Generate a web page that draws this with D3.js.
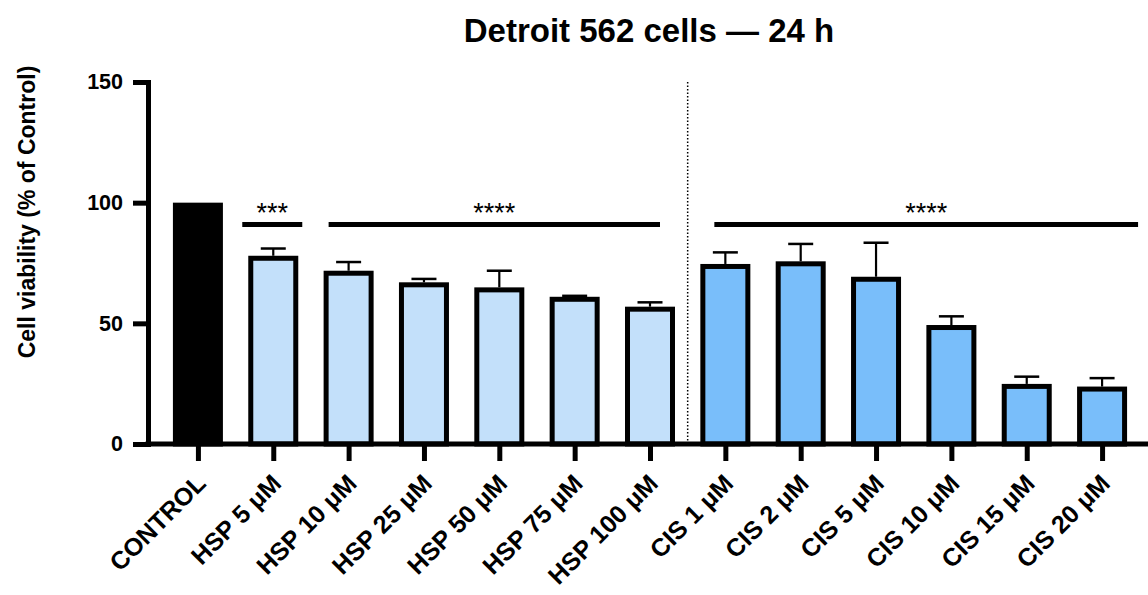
<!DOCTYPE html>
<html>
<head>
<meta charset="utf-8">
<script src="https://cdn.jsdelivr.net/npm/d3@7"></script>
<style>
  html, body { margin: 0; padding: 0; background: #fff; }
  svg { display: block; }
  text { font-family: "Liberation Sans", Arial, Helvetica, sans-serif; }
</style>
</head>
<body>
<svg id="chart" width="1148" height="595"></svg>
<script>
// ---- data ----
const categories = ["CONTROL", "HSP 5 μM", "HSP 10 μM", "HSP 25 μM", "HSP 50 μM", "HSP 75 μM", "HSP 100 μM",
                    "CIS 1 μM", "CIS 2 μM", "CIS 5 μM", "CIS 10 μM", "CIS 15 μM", "CIS 20 μM"];
const groups = ["control", "hsp", "hsp", "hsp", "hsp", "hsp", "hsp",
                "cis", "cis", "cis", "cis", "cis", "cis"];
const means = [100, 78.0, 71.8, 67.0, 64.9, 61.0, 56.9, 74.6, 75.7, 69.3, 49.3, 24.9, 23.8];
const sds   = [0, 3.0, 3.6, 1.4, 6.9, 0.4, 1.8, 4.8, 7.2, 14.1, 3.6, 3.0, 3.5];
const yTicks = [0, 50, 100, 150];
const sigFrom = ["HSP 5 μM", "HSP 10 μM", "CIS 1 μM"];
const sigTo = ["HSP 5 μM", "HSP 100 μM", "CIS 20 μM"];
const sigLabels = ["***", "****", "****"];
const sigLevel = [91, 91, 91];
const title = "Detroit 562 cells — 24 h";
const yTitle = "Cell viability (% of Control)";

// ---- layout ----
const colors = { control: "#000000", hsp: "#c3e0fa", cis: "#79befa" };
const svg = d3.select("#chart");
const x = d3.scalePoint().domain(categories).range([150, 1150]).padding(0.636);
const y = d3.scaleLinear().domain([0, 150]).range([444, 82]);
const barW = 50, sw = 5;
const sigDx = [[-31, 29], [-20, 10], [-11, 36]];

// title
svg.append("text")
  .attr("x", 649).attr("y", 42)
  .attr("text-anchor", "middle")
  .attr("font-size", 33).attr("font-weight", "bold")
  .text(title);

// y axis title
svg.append("text")
  .attr("transform", "translate(35,212) rotate(-90)")
  .attr("text-anchor", "middle")
  .attr("font-size", 23).attr("font-weight", "bold")
  .text(yTitle);

// dotted separator
const sepX = (x("HSP 100 μM") + x("CIS 1 μM")) / 2;
svg.append("line")
  .attr("x1", sepX).attr("x2", sepX)
  .attr("y1", y(150)).attr("y2", y(0))
  .attr("stroke", "#000").attr("stroke-width", 1.5)
  .attr("stroke-dasharray", "1.5,2");

// bars
const data = categories.map((c, i) => ({ c, g: groups[i], m: means[i], sd: sds[i] }));
svg.append("g").selectAll("rect").data(data).join("rect")
  .attr("x", d => x(d.c) - barW / 2 + sw / 2)
  .attr("width", barW - sw)
  .attr("y", d => y(d.m) + sw / 2)
  .attr("height", d => y(0) - y(d.m) - sw / 2)
  .attr("fill", d => colors[d.g])
  .attr("stroke", "#000").attr("stroke-width", sw);

// error bars
const eb = svg.append("g").selectAll("g").data(data.filter(d => d.sd > 0)).join("g");
eb.append("line")
  .attr("x1", d => x(d.c)).attr("x2", d => x(d.c))
  .attr("y1", d => y(d.m)).attr("y2", d => y(d.m + d.sd))
  .attr("stroke", "#000").attr("stroke-width", 2.2);
eb.append("line")
  .attr("x1", d => x(d.c) - 12.5).attr("x2", d => x(d.c) + 12.5)
  .attr("y1", d => y(d.m + d.sd)).attr("y2", d => y(d.m + d.sd))
  .attr("stroke", "#000").attr("stroke-width", 2.5);

// significance brackets
sigLabels.forEach((lab, i) => {
  const x1 = x(sigFrom[i]) + sigDx[i][0];
  const x2 = x(sigTo[i]) + sigDx[i][1];
  const yy = y(sigLevel[i]);
  svg.append("line")
    .attr("x1", x1).attr("x2", x2).attr("y1", yy).attr("y2", yy)
    .attr("stroke", "#000").attr("stroke-width", 5);
  svg.append("text")
    .attr("x", (x1 + x2) / 2).attr("y", yy - 2.5)
    .attr("text-anchor", "middle")
    .attr("font-size", 27)
    .text(lab);
});

// y axis
const yAxis = svg.append("g").attr("transform", "translate(148,0)")
  .call(d3.axisLeft(y).tickValues(yTicks).tickSize(15).tickSizeOuter(0).tickPadding(10));
yAxis.select(".domain").attr("stroke-width", 5).attr("stroke-linecap", "square");
yAxis.selectAll(".tick line").attr("stroke-width", 5);
yAxis.selectAll(".tick text")
  .attr("font-size", 21.5).attr("font-weight", "bold").attr("fill", "#000")
  .attr("font-family", "Liberation Sans, Arial, sans-serif");

// x axis
const xAxis = svg.append("g").attr("transform", "translate(0,444)")
  .call(d3.axisBottom(x).tickSize(17).tickSizeOuter(0));
xAxis.select(".domain").attr("d", "M145.5,0H1148").attr("stroke-width", 5);
xAxis.selectAll(".tick line").attr("stroke-width", 5);
xAxis.selectAll(".tick text")
  .attr("y", null).attr("dy", null)
  .attr("text-anchor", "end")
  .attr("transform", "translate(9,41) rotate(-45)")
  .attr("font-size", 25).attr("font-weight", "bold").attr("fill", "#000")
  .attr("font-family", "Liberation Sans, Arial, sans-serif");
</script>
</body>
</html>
